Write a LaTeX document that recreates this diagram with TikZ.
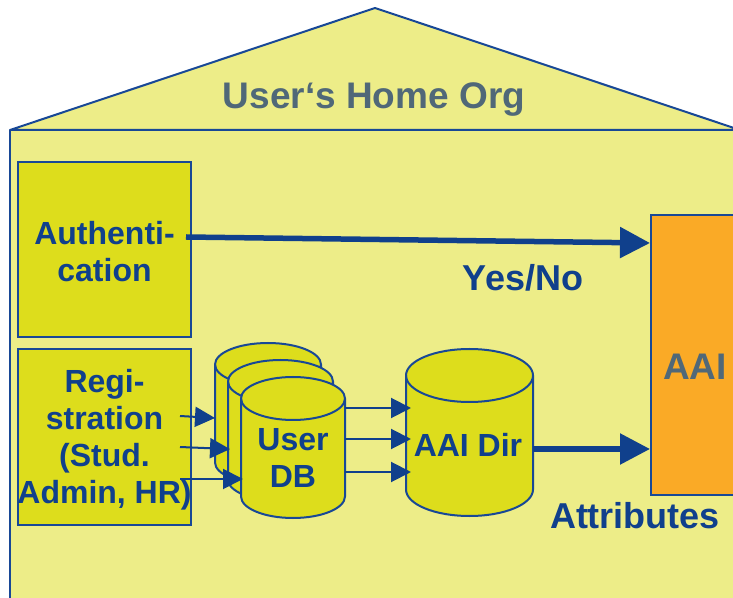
\documentclass[tikz,border=0pt]{standalone}
\usepackage{fontspec}
\setmainfont{Liberation Sans}
\usetikzlibrary{arrows.meta}
\definecolor{bgyellow}{RGB}{237,237,136}
\definecolor{boxyellow}{RGB}{221,221,28}
\definecolor{linecol}{RGB}{24,72,150}
\definecolor{txtblue}{RGB}{16,64,140}
\definecolor{txtgray}{RGB}{80,104,120}
\definecolor{aaiorange}{RGB}{250,170,38}
\newcommand\drawcyl[5]{%
  \filldraw[cylst] (#1,#3-#5) -- (#1,#2+#5) arc(180:360:#4pt and #5pt) -- ++(0,#3-#2-2*#5) arc(0:180:#4pt and #5pt) -- cycle;
  \draw[cylst,fill=none] (#1,#3-#5) arc(180:360:#4pt and #5pt);}
\begin{document}
\begin{tikzpicture}[x=1pt,y=1pt,
  house/.style={fill=bgyellow,draw=linecol,line width=2pt,line join=bevel},
  cylst/.style={fill=boxyellow,draw=linecol,line width=2pt},
  boxst/.style={draw=linecol,line width=2pt,fill=boxyellow,inner sep=0pt,
    minimum width=173pt},
  anchorbox/.style={inner sep=0pt,outer sep=0pt},
  lbl/.style={text=txtblue,font=\bfseries\fontsize{32}{37}\selectfont,align=center,inner sep=0pt},
  biglbl/.style={text=txtblue,font=\bfseries\fontsize{36}{40}\selectfont,inner sep=0pt},
  graylbl/.style={text=txtgray,font=\bfseries\fontsize{37}{40}\selectfont,inner sep=0pt},
  thinarr/.style={draw=txtblue,line width=2pt,-{Triangle[length=20pt,width=20pt]}},
  thickarr/.style={draw=txtblue,line width=5.5pt,-{Triangle[length=30pt,width=30pt]}}]
\useasboundingbox (0,0) rectangle (733,597);
\begin{scope}
\clip (0,0) rectangle (733,597);
% house
\path[house] (10,-20) rectangle (780,467);
\path[house] (10,467) -- (375,589) -- (740,467) -- cycle;
\node[graylbl] (home) at (374,497) {User‘s Home Org};
% boxes
\node[boxst,minimum height=175pt] (auth) at (104.5,347.5) {};
\node[lbl] (authtext) at (104.5,345) {Authenti-\\cation};
\node[boxst,minimum height=176pt] (reg) at (104.5,160) {};
\node[lbl] (regtext) at (104.5,157) {Regi-\\stration\\(Stud.\\Admin, HR)};
% AAI
\node[draw=linecol,line width=2pt,fill=aaiorange,minimum width=150pt,minimum height=280pt,inner sep=0pt] (aai) at (726,242) {};
\node[graylbl,anchor=west] (aailbl) at (663,230) {AAI};
% cylinders
\drawcyl{215}{113}{254}{53}{21.5}
\drawcyl{228}{96}{237}{52.5}{21.5}
\drawcyl{241}{79}{220}{52}{21.5}
\drawcyl{406}{81}{248}{63.5}{26.5}
\node[anchorbox,minimum width=106pt,minimum height=141pt] (db1) at (268,183.5) {};
\node[anchorbox,minimum width=105pt,minimum height=141pt] (db2) at (280.5,166.5) {};
\node[anchorbox,minimum width=104pt,minimum height=141pt] (db3) at (293,149.5) {};
\node[anchorbox,minimum width=127pt,minimum height=167pt] (aaidir) at (469.5,164.5) {};
\node[lbl] (dbtext) at (293,139.5) {User\\DB};
\node[lbl] (dirtext) at (468,152) {AAI Dir};
% arrows
\coordinate (r1) at (180,181);
\coordinate (r2) at (180,150);
\coordinate (r3) at (180,118);
\draw[thinarr] (r1) -- (db1.west |- 0,179);
\draw[thinarr,shorten >=-2pt] (r2) -- (db2.west |- 0,148);
\draw[thinarr,shorten >=-2pt] (r3) -- (db3.west |- 0,118);
\draw[thinarr,shorten >=-5pt] (db3.east |- 0,189) -- (aaidir.west |- 0,189);
\draw[thinarr,shorten >=-5pt] (db3.east |- 0,158) -- (aaidir.west |- 0,158);
\draw[thinarr,shorten >=-5pt] (db3.east |- 0,125) -- (aaidir.west |- 0,125);
\coordinate (a1) at (186,360);
\draw[thickarr] (a1) -- (aai.west |- 0,354);
\draw[thickarr] (aaidir.east |- 0,148) -- (aai.west |- 0,148);
\node[biglbl] (yesno) at (523,319) {Yes/No};
\node[biglbl] (attr) at (635,81) {Attributes};
\end{scope}
\end{tikzpicture}
\end{document}
